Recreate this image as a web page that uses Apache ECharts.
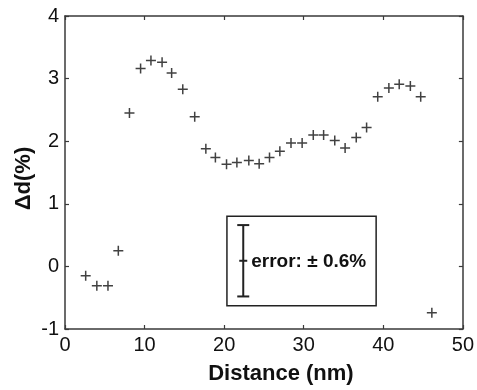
<!DOCTYPE html>
<html><head><meta charset="utf-8">
<script src="https://cdn.jsdelivr.net/npm/echarts@6/dist/echarts.min.js"></script>
<style>html,body{margin:0;padding:0;background:#fff}#c{width:477px;height:390px}</style>
</head><body><div id="c"></div>
<script>
var distance = [2.6,4.0,5.4,6.7,8.1,9.5,10.8,12.2,13.4,14.8,16.3,17.7,18.9,20.3,21.6,23.1,24.4,25.7,27.0,28.4,29.8,31.2,32.5,33.9,35.2,36.6,37.9,39.3,40.7,42.0,43.4,44.7,46.1];
var deltaD = [-0.15,-0.31,-0.31,0.25,2.45,3.16,3.29,3.26,3.09,2.83,2.39,1.88,1.74,1.63,1.66,1.69,1.64,1.74,1.84,1.97,1.97,2.10,2.10,2.01,1.89,2.06,2.22,2.71,2.85,2.91,2.88,2.71,-0.74];
var xTicks = [0,10,20,30,40,50];
var yTicks = [-1,0,1,2,3,4];
var errValue = 0.6;
var errLabel = 'error: \u00b1 0.6%';
var errCenter = [22.4, 0.09];
var insetBox = {x0: 20.35, x1: 39.1, y0: 0.8, y1: -0.63};

var FONT = '"Liberation Sans", Arial, sans-serif';
var axisCol = '#3a3a3a';
var chart = echarts.init(document.getElementById('c'), null, {renderer: 'canvas'});
var pts = distance.map(function (d, i) { return [d, deltaD[i]]; });
var plus = 'path://M0,4.25H10V5.75H0Z M4.25,0H5.75V10H4.25Z';

function axisBase(show) {
  return {
    axisLine: {show: true, onZero: false, lineStyle: {color: axisCol, width: 1.5}},
    axisTick: {show: true, inside: true, length: 4, lineStyle: {color: axisCol, width: 1.2}},
    splitLine: {show: false},
    axisLabel: {show: show, color: '#111', fontSize: 20, fontFamily: FONT}
  };
}
var xb = axisBase(true), xt = axisBase(false), yl = axisBase(true), yr = axisBase(false);
var option = {
  backgroundColor: '#fff',
  animation: false,
  grid: {left: 65, right: 10, top: 16, bottom: 57},
  xAxis: [
    Object.assign(xb, {type: 'value', position: 'bottom', min: xTicks[0], max: xTicks[xTicks.length-1], interval: 10,
      name: 'Distance (nm)', nameLocation: 'middle', nameGap: 34, nameMoveOverlap: false,
      nameTextStyle: {fontSize: 22, fontWeight: 'bold', color: '#111', fontFamily: FONT, padding: [0, 0, 0, 34]}}),
    Object.assign(xt, {type: 'value', position: 'top', min: xTicks[0], max: xTicks[xTicks.length-1], interval: 10})
  ],
  yAxis: [
    Object.assign(yl, {type: 'value', position: 'left', min: yTicks[0], max: yTicks[yTicks.length-1], interval: 1,
      name: '\u0394d(%)', nameLocation: 'middle', nameGap: 30, nameMoveOverlap: false,
      nameTextStyle: {fontSize: 22, fontWeight: 'bold', color: '#111', fontFamily: FONT, padding: [0, 12, 0, 0]}}),
    Object.assign(yr, {type: 'value', position: 'right', min: yTicks[0], max: yTicks[yTicks.length-1], interval: 1})
  ],
  series: [{
    type: 'scatter', xAxisIndex: 0, yAxisIndex: 0, data: pts,
    symbol: plus, symbolSize: 10,
    itemStyle: {color: '#111'}
  }]
};
option.xAxis[0].axisLabel.margin = 6;
option.yAxis[0].axisLabel.margin = 6;
chart.setOption(option);

var p0 = chart.convertToPixel({gridIndex: 0}, [insetBox.x0, insetBox.y0]);
var p1 = chart.convertToPixel({gridIndex: 0}, [insetBox.x1, insetBox.y1]);
var eT = chart.convertToPixel({gridIndex: 0}, [errCenter[0], errCenter[1] + errValue * 0.95]);
var eM = chart.convertToPixel({gridIndex: 0}, [errCenter[0], errCenter[1]]);
var eB = chart.convertToPixel({gridIndex: 0}, [errCenter[0], errCenter[1] - errValue * 0.95]);
var lw = {stroke: '#222', lineWidth: 2};
chart.setOption({graphic: [
  {type: 'rect', shape: {x: p0[0], y: p0[1], width: p1[0]-p0[0], height: p1[1]-p0[1]}, style: {fill: '#fff', stroke: '#222', lineWidth: 1.5}, z: 10},
  {type: 'line', shape: {x1: eT[0], y1: eT[1], x2: eB[0], y2: eB[1]}, style: lw, z: 11},
  {type: 'line', shape: {x1: eT[0]-6, y1: eT[1], x2: eT[0]+6, y2: eT[1]}, style: lw, z: 11},
  {type: 'line', shape: {x1: eB[0]-6, y1: eB[1], x2: eB[0]+6, y2: eB[1]}, style: lw, z: 11},
  {type: 'line', shape: {x1: eM[0]-4, y1: eM[1], x2: eM[0]+4, y2: eM[1]}, style: lw, z: 11},
  {type: 'text', x: eM[0] + 8, y: eM[1] + 1, style: {text: errLabel, fill: '#111', font: 'bold 19px ' + FONT, textVerticalAlign: 'middle', verticalAlign: 'middle'}, z: 11}
]});
</script></body></html>
